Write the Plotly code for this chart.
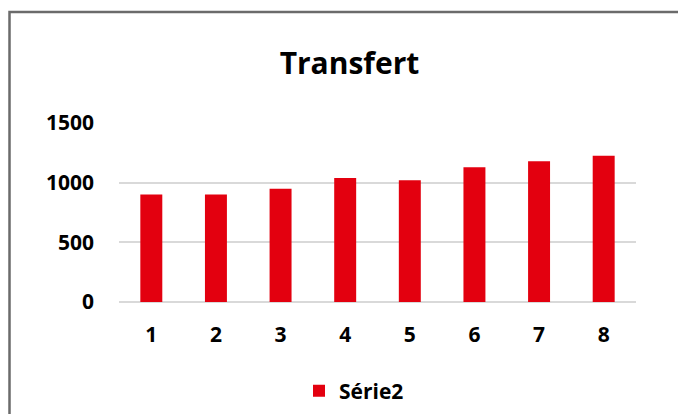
import plotly.graph_objects as go

categories = ["1", "2", "3", "4", "5", "6", "7", "8"]
values = [900, 900, 950, 1040, 1020, 1130, 1180, 1225]
series_name = "Série2"
title_text = "Transfert"
y_ticks = [0, 500, 1000, 1500]

W, H = 686, 414
OFF = 8  # page body margin offset
L, R, T, B = 119 - OFF, W - (636 - OFF), 123 - OFF, round(H - (302.7 - OFF))
pw, ph = W - L - R, H - T - B

def px_to_paper_x(px):
    return (px - OFF - L) / pw

def px_to_paper_y(py):
    return (H - B - (py - OFF)) / ph

font_family = "Open Sans, Noto Sans, sans-serif"

fig = go.Figure()
fig.add_trace(go.Bar(
    x=categories, y=values, name=series_name,
    marker=dict(color="#E3000F", line=dict(width=0)),
    showlegend=True,
))

fig.update_layout(
    width=W, height=H,
    margin=dict(l=L, r=R, t=T, b=B),
    paper_bgcolor="white", plot_bgcolor="white",
    bargap=0.66,
    title=dict(text=title_text, x=(349.5 - OFF) / W, xref="container", xanchor="center",
               y=1 - (63 - OFF) / H, yref="container", yanchor="middle",
               font=dict(family=font_family, size=30, color="#000000", weight="bold")),
    font=dict(family=font_family, color="#000000"),
    showlegend=True,
    legend=dict(orientation="h", x=px_to_paper_x(354), xanchor="center", y=px_to_paper_y(391), yanchor="middle",
                xref="paper", yref="paper",
                font=dict(family=font_family, size=21, color="#000000", weight="bold"),
                itemwidth=30, bgcolor="rgba(0,0,0,0)"),
    xaxis=dict(type="category", showgrid=False, showline=False, zeroline=False,
               ticks="", ticklabelstandoff=18,
               tickfont=dict(family=font_family, size=21, color="#000000", weight="bold")),
    yaxis=dict(range=[0, 1500], tickvals=y_ticks, showgrid=True, gridcolor="#d9d9d9", gridwidth=2,
               zeroline=True, zerolinecolor="#d9d9d9", zerolinewidth=2, showline=False,
               ticks="", ticklabelstandoff=24,
               tickfont=dict(family=font_family, size=21, color="#000000", weight="bold")),
    shapes=[dict(type="rect", xref="paper", yref="paper",
                 x0=px_to_paper_x(9.5), x1=px_to_paper_x(700),
                 y0=px_to_paper_y(430), y1=px_to_paper_y(11.5),
                 line=dict(color="#6b6b6b", width=2.5), fillcolor="rgba(0,0,0,0)", layer="above")],
)

fig.write_html("out.html")
